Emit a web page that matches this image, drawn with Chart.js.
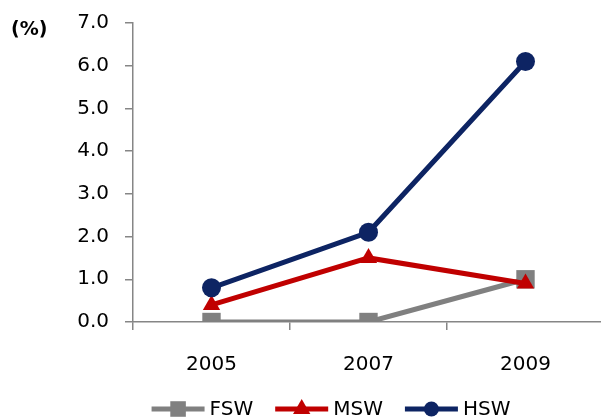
<!DOCTYPE html>
<html>
<head>
<meta charset="utf-8">
<script src="https://cdn.jsdelivr.net/npm/chart.js@4/dist/chart.umd.min.js"></script>
<style>
  html, body { margin: 0; padding: 0; background: #fff; overflow: hidden; }
  #wrap { width: 601px; height: 418px; overflow: hidden; position: relative; }
  canvas { display: block; }
</style>
</head>
<body>
<div id="wrap"><canvas id="c" width="617" height="418"></canvas></div>
<script>
// Survey years and prevalence (%) per group
const years = ['2005', '2007', '2009'];
const fsw = [0.0, 0.0, 1.0];
const msw = [0.4, 1.5, 0.9];
const hsw = [0.8, 2.1, 6.1];
const seriesNames = ['FSW', 'MSW', 'HSW'];
const yTicks = [0, 1, 2, 3, 4, 5, 6, 7];

const FONT = '"DejaVu Sans", Verdana, sans-serif';
const AXIS = '#868686';
const colors = { FSW: '#808080', MSW: '#c00000', HSW: '#0d2463' };
const styles = { FSW: 'rect', MSW: 'triangle', HSW: 'circle' };
const radii = { FSW: 13, MSW: 10, HSW: 9.5 };
const legendRadii = { FSW: 11, MSW: 10, HSW: 7.5 };

function ds(name, data, order) {
  return {
    label: name, data, order,
    borderColor: colors[name], backgroundColor: colors[name],
    borderWidth: 5, pointStyle: styles[name], pointRadius: radii[name],
    pointHoverRadius: radii[name], pointBorderWidth: 0, tension: 0
  };
}

// "(%)" unit label and a line+marker legend along the bottom
const extras = {
  id: 'extras',
  afterDraw(chart) {
    const ctx = chart.ctx;
    ctx.save();
    ctx.fillStyle = '#000';
    ctx.font = 'bold 19px ' + FONT;
    ctx.textAlign = 'left';
    ctx.textBaseline = 'middle';
    ctx.fillText('(%)', 11, 30);

    ctx.font = '20px ' + FONT;
    const lineLen = 53, gapText = 5, gapItem = 22;
    const widths = seriesNames.map(n => lineLen + gapText + ctx.measureText(n).width);
    const total = widths.reduce((a, b) => a + b, 0) + gapItem * (seriesNames.length - 1);
    let x = 331 - total / 2;
    const y = 409;
    seriesNames.forEach((n, i) => {
      ctx.strokeStyle = colors[n];
      ctx.lineWidth = 5;
      ctx.lineCap = 'butt';
      ctx.beginPath();
      ctx.moveTo(x, y);
      ctx.lineTo(x + lineLen, y);
      ctx.stroke();
      ctx.fillStyle = colors[n];
      ctx.lineWidth = 0.01;
      Chart.helpers.drawPoint(ctx, {
        pointStyle: styles[n], radius: legendRadii[n], rotation: 0, borderWidth: 0
      }, x + lineLen / 2, y);
      ctx.fillStyle = '#000';
      ctx.fillText(n, x + lineLen + gapText, y + 1);
      x += widths[i] + gapItem;
    });
    ctx.restore();
  }
};

new Chart(document.getElementById('c'), {
  type: 'line',
  data: {
    labels: years,
    datasets: [ds('FSW', fsw, 2), ds('MSW', msw, 1), ds('HSW', hsw, 0)]
  },
  options: {
    responsive: false,
    animation: false,
    layout: { padding: { top: 23, left: 0, right: 0, bottom: 18 } },
    plugins: { legend: { display: false }, tooltip: { enabled: false } },
    scales: {
      x: {
        type: 'category',
        offset: true,
        grid: { offset: true, drawOnChartArea: false, tickLength: 8, color: AXIS, lineWidth: 1.5 },
        border: { color: AXIS, width: 1.5 },
        ticks: { color: '#000', font: { family: FONT, size: 20 }, padding: 23, maxRotation: 0 }
      },
      y: {
        min: 0, max: 7,
        afterFit(scale) { scale.width = 133; scale.paddingTop = 0; scale.paddingBottom = 0; },
        afterBuildTicks(scale) { scale.ticks = yTicks.map(v => ({ value: v })); },
        grid: { drawOnChartArea: false, tickLength: 8, color: AXIS, lineWidth: 1.5 },
        border: { color: AXIS, width: 1.5 },
        ticks: {
          color: '#000', font: { family: FONT, size: 20 }, padding: 16,
          callback: v => Number(v).toFixed(1)
        }
      }
    }
  },
  plugins: [extras]
});
</script>
</body>
</html>
